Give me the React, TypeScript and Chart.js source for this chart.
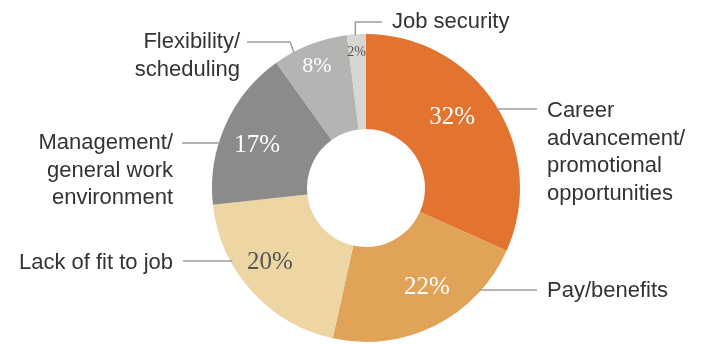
import React, { useEffect, useRef } from "react";
import { Chart, registerables } from "chart.js";

Chart.register(...registerables);

// ---- data ----
const categories = [
  "Career advancement/ promotional opportunities",
  "Pay/benefits",
  "Lack of fit to job",
  "Management/ general work environment",
  "Flexibility/ scheduling",
  "Job security",
];
const percentValues = [32, 22, 20, 17, 8, 2];
const percentLabels = ["32%", "22%", "20%", "17%", "8%", "2%"];
const calloutText = [
  ["Career", "advancement/", "promotional", "opportunities"],
  ["Pay/benefits"],
  ["Lack of fit to job"],
  ["Management/", "general work", "environment"],
  ["Flexibility/", "scheduling"],
  ["Job security"],
];

// ---- styles ----
const sliceColors = ["#E27430", "#E1A357", "#EDD6A4", "#8B8C8A", "#B4B4B2", "#D6D6D2"];
const pctStyle = [
  { r: 0.724, da: -6.5, size: 25, color: "#ffffff" },
  { r: 0.76, da: -4.7, size: 25, color: "#ffffff" },
  { r: 0.79, da: 4, size: 25, color: "#555555" },
  { r: 0.76, da: -2.5, size: 25, color: "#ffffff" },
  { r: 0.85, da: -0.6, size: 22, color: "#ffffff" },
  { r: 0.88, da: -0.4, size: 14, color: "#555555" },
];
// callout layout relative to chart centre
const calloutLayout = [
  { kind: "right", lineY: -79, lineEnd: 171, textX: 181, textY: -77 },
  { kind: "right", lineY: 102, lineEnd: 171, textX: 181, textY: 103 },
  { kind: "left", lineY: 73, lineEnd: -183, textX: -193, textY: 75 },
  { kind: "left", lineY: -45, lineEnd: -184, textX: -193, textY: -45 },
  { kind: "elbowLeft", angle: 332, elbow: [-76, -146], lineEnd: -119, textX: -126, textY: -146 },
  { kind: "elbowUp", angle: 356, elbowY: -166, lineEnd: 16, textX: 26, textY: -166 },
];
const LINE_H = 27.5;

const labelPlugin = {
  id: "donutLabels",
  afterDatasetsDraw(chart: any) {
    const ctx = chart.ctx;
    const meta = chart.getDatasetMeta(0);
    ctx.save();
    meta.data.forEach((arc: any, i: number) => {
      const p = arc.getProps(["x", "y", "startAngle", "endAngle", "outerRadius", "innerRadius"], true);
      const cx = p.x, cy = p.y, R = p.outerRadius;
      // percentage labels
      const st = pctStyle[i];
      const mid = (p.startAngle + p.endAngle) / 2 + (st.da * Math.PI) / 180;
      const lx = cx + Math.cos(mid) * R * st.r;
      const ly = cy + Math.sin(mid) * R * st.r;
      ctx.font = `${st.size}px "Liberation Serif", "Times New Roman", serif`;
      ctx.fillStyle = st.color;
      ctx.textAlign = "center";
      ctx.textBaseline = "middle";
      ctx.fillText(percentLabels[i], lx, ly);

      // callouts
      const L: any = calloutLayout[i];
      ctx.strokeStyle = "#9c9c9c";
      ctx.lineWidth = 1.5;
      ctx.beginPath();
      if (L.kind === "right" || L.kind === "left") {
        const dx = Math.sqrt(Math.max(R * R - L.lineY * L.lineY, 0));
        const ex = L.kind === "right" ? cx + dx - 2 : cx - dx + 2;
        ctx.moveTo(ex, cy + L.lineY);
        ctx.lineTo(cx + L.lineEnd, cy + L.lineY);
      } else {
        const a = ((L.angle - 90) * Math.PI) / 180;
        const ax = cx + Math.cos(a) * (R - 1);
        const ay = cy + Math.sin(a) * (R - 1);
        ctx.moveTo(ax, ay);
        if (L.kind === "elbowLeft") {
          ctx.lineTo(cx + L.elbow[0], cy + L.elbow[1]);
          ctx.lineTo(cx + L.lineEnd, cy + L.elbow[1]);
        } else {
          ctx.lineTo(ax, cy + L.elbowY);
          ctx.lineTo(cx + L.lineEnd, cy + L.elbowY);
        }
      }
      ctx.stroke();

      ctx.font = `22px "Liberation Sans", Arial, sans-serif`;
      ctx.fillStyle = "#333333";
      ctx.textAlign = L.textX > 0 ? "left" : "right";
      ctx.textBaseline = "middle";
      calloutText[i].forEach((t, k) => {
        ctx.fillText(t, cx + L.textX, cy + L.textY + k * LINE_H);
      });
    });
    ctx.restore();
  },
};

export default function App() {
  const ref = useRef<HTMLCanvasElement>(null);
  useEffect(() => {
    document.body.style.margin = "0";
    const chart = new Chart(ref.current as HTMLCanvasElement, {
      type: "doughnut",
      data: {
        labels: categories,
        datasets: [
          {
            data: percentValues,
            backgroundColor: sliceColors,
            borderWidth: 0,
          },
        ],
      },
      options: {
        responsive: false,
        animation: false,
        cutout: "38.3%",
        layout: { padding: { left: 212, right: 182, top: 34, bottom: 2 } },
        plugins: { legend: { display: false }, tooltip: { enabled: false } },
      },
      plugins: [labelPlugin],
    });
    return () => chart.destroy();
  }, []);
  return (
    <div style={{ width: 702, height: 344, background: "#fff" }}>
      <canvas ref={ref} width={702} height={344} style={{ display: "block" }} />
    </div>
  );
}
